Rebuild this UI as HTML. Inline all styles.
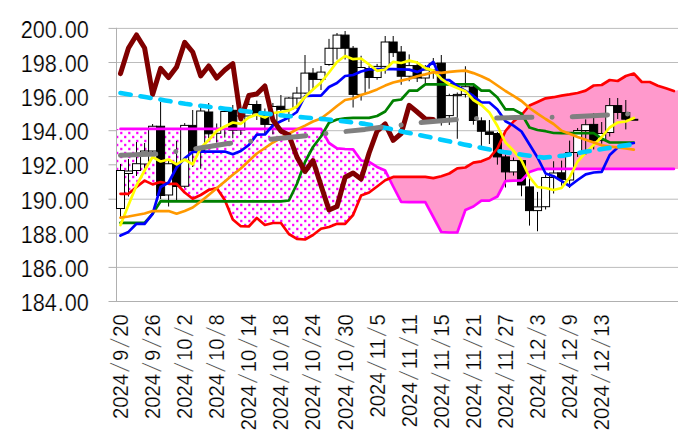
<!DOCTYPE html>
<html><head><meta charset="utf-8"><title>chart</title>
<style>html,body{margin:0;padding:0;background:#fff}svg{display:block}text{font-family:"Liberation Sans",sans-serif;fill:#000}</style></head><body>
<svg width="680" height="442" viewBox="0 0 680 442">
<defs><pattern id="dots" x="0" y="0" width="8" height="8" patternUnits="userSpaceOnUse"><rect width="8" height="8" fill="#fff"/><rect x="0.2" y="3.8" width="2.2" height="2.4" fill="#f0f"/><rect x="4.1" y="-0.2" width="2.2" height="2.4" fill="#f0f"/><rect x="4.1" y="7.8" width="2.2" height="2.4" fill="#f0f"/></pattern>
</defs>
<rect width="680" height="442" fill="#fff"/>
<line x1="116.5" y1="28.4" x2="678" y2="28.4" stroke="#bcbcbc" stroke-width="1"/>
<line x1="116.5" y1="62.5" x2="678" y2="62.5" stroke="#bcbcbc" stroke-width="1"/>
<line x1="116.5" y1="96.6" x2="678" y2="96.6" stroke="#bcbcbc" stroke-width="1"/>
<line x1="116.5" y1="130.7" x2="678" y2="130.7" stroke="#bcbcbc" stroke-width="1"/>
<line x1="116.5" y1="164.8" x2="678" y2="164.8" stroke="#bcbcbc" stroke-width="1"/>
<line x1="116.5" y1="199.2" x2="678" y2="199.2" stroke="#bcbcbc" stroke-width="1"/>
<line x1="116.5" y1="233.3" x2="678" y2="233.3" stroke="#bcbcbc" stroke-width="1"/>
<line x1="116.5" y1="267.4" x2="678" y2="267.4" stroke="#bcbcbc" stroke-width="1"/>
<polygon points="116.5,128.9 120.5,128.9 128.5,128.9 136.5,128.9 144.6,128.9 152.6,128.9 160.6,128.9 168.6,128.9 176.6,128.9 184.7,128.9 192.7,128.9 200.7,128.9 208.7,128.9 216.7,128.9 224.8,128.9 232.8,128.9 240.8,128.9 248.8,128.9 256.8,128.9 264.9,128.9 272.9,128.9 280.9,128.9 288.9,128.9 296.9,128.9 305.0,128.9 313.0,128.9 321.0,128.9 329.0,143.0 337.0,148.3 345.1,149.0 353.1,149.4 361.1,160.5 369.1,161.9 377.1,166.9 385.2,170.6 389.2,178.6 385.2,180.3 377.1,186.5 369.1,192.5 361.1,195.5 353.1,215.0 345.1,223.8 337.0,223.8 329.0,227.0 321.0,228.8 313.0,235.0 305.0,239.5 296.9,238.8 288.9,234.0 280.9,223.0 272.9,223.0 264.9,225.0 256.8,218.0 248.8,226.5 240.8,226.2 232.8,219.5 224.8,200.0 216.7,188.0 208.7,190.0 200.7,195.0 192.7,198.8 184.7,192.5 176.6,183.8 168.6,183.8 160.6,182.0 152.6,184.4 144.6,180.6 136.5,187.0 128.5,193.8 120.5,193.8 116.5,193.8" fill="url(#dots)"/>
<polygon points="389.2,178.6 393.2,176.9 401.2,176.9 409.2,176.9 417.2,176.9 425.3,176.9 433.3,178.1 441.3,176.2 449.3,173.5 457.3,168.3 465.4,167.5 473.4,162.7 481.4,161.3 489.4,158.0 497.4,148.5 505.5,131.0 513.5,121.5 521.5,115.0 529.5,105.5 537.5,101.9 545.6,98.3 553.6,97.2 561.6,95.6 569.6,94.4 577.6,93.0 585.7,90.6 593.7,85.5 601.7,85.0 609.7,80.0 617.7,81.0 625.8,76.0 633.8,73.5 641.8,82.0 649.8,82.0 657.8,85.7 665.9,88.3 673.9,91.0 678.0,90.2 678.0,168.9 673.9,168.9 665.9,168.9 657.8,168.9 649.8,168.9 641.8,168.9 633.8,168.9 625.8,168.9 617.7,168.9 609.7,168.9 601.7,168.9 593.7,168.9 585.7,168.9 577.6,168.9 569.6,168.9 561.6,168.9 553.6,168.9 545.6,168.9 537.5,169.2 529.5,172.0 521.5,180.4 513.5,180.6 505.5,181.0 497.4,196.5 489.4,200.6 481.4,200.6 473.4,206.5 465.4,210.0 457.3,232.5 449.3,232.5 441.3,232.0 433.3,217.0 425.3,202.2 417.2,202.2 409.2,202.2 401.2,201.8 393.2,186.5" fill="#ff99cc"/>
<line x1="116.5" y1="27.8" x2="116.5" y2="301.7" stroke="#b0b0b0" stroke-width="1"/>
<line x1="108.5" y1="301.5" x2="678" y2="301.5" stroke="#b0b0b0" stroke-width="1"/>
<line x1="108.5" y1="28.4" x2="116.5" y2="28.4" stroke="#b0b0b0" stroke-width="1"/>
<line x1="108.5" y1="62.5" x2="116.5" y2="62.5" stroke="#b0b0b0" stroke-width="1"/>
<line x1="108.5" y1="96.6" x2="116.5" y2="96.6" stroke="#b0b0b0" stroke-width="1"/>
<line x1="108.5" y1="130.7" x2="116.5" y2="130.7" stroke="#b0b0b0" stroke-width="1"/>
<line x1="108.5" y1="164.8" x2="116.5" y2="164.8" stroke="#b0b0b0" stroke-width="1"/>
<line x1="108.5" y1="199.2" x2="116.5" y2="199.2" stroke="#b0b0b0" stroke-width="1"/>
<line x1="108.5" y1="233.3" x2="116.5" y2="233.3" stroke="#b0b0b0" stroke-width="1"/>
<line x1="108.5" y1="267.4" x2="116.5" y2="267.4" stroke="#b0b0b0" stroke-width="1"/>
<g stroke="#000" stroke-width="1">
<line x1="120.5" y1="164" x2="120.5" y2="217"/>
<rect x="116.49" y="170.5" width="8.02" height="38.00" fill="#fff"/>
<line x1="128.5" y1="159" x2="128.5" y2="196.5"/>
<rect x="124.51" y="171" width="8.02" height="2.50" fill="#fff"/>
<line x1="136.5" y1="142" x2="136.5" y2="176"/>
<rect x="132.53" y="163.7" width="8.02" height="6.80" fill="#fff"/>
<line x1="144.6" y1="143" x2="144.6" y2="172"/>
<rect x="140.55" y="151" width="8.02" height="13.00" fill="#fff"/>
<line x1="152.6" y1="124" x2="152.6" y2="153"/>
<rect x="148.57" y="126.25" width="8.02" height="24.75" fill="#fff"/>
<line x1="160.6" y1="102" x2="160.6" y2="199"/>
<rect x="156.59" y="126.25" width="8.02" height="69.25" fill="#000"/>
<line x1="168.6" y1="160" x2="168.6" y2="206.5"/>
<rect x="164.61" y="163.75" width="8.02" height="31.25" fill="#fff"/>
<line x1="176.6" y1="141" x2="176.6" y2="200"/>
<rect x="172.63" y="163.75" width="8.02" height="22.75" fill="#000"/>
<line x1="184.7" y1="123.1" x2="184.7" y2="188"/>
<rect x="180.65" y="125.4" width="8.02" height="60.85" fill="#fff"/>
<line x1="192.7" y1="110" x2="192.7" y2="167"/>
<rect x="188.67" y="125.4" width="8.02" height="25.60" fill="#000"/>
<line x1="200.7" y1="104" x2="200.7" y2="168.75"/>
<rect x="196.69" y="111" width="8.02" height="39.60" fill="#fff"/>
<line x1="208.7" y1="103" x2="208.7" y2="138"/>
<rect x="204.71" y="112" width="8.02" height="21.80" fill="#000"/>
<line x1="216.7" y1="123.5" x2="216.7" y2="142.6"/>
<rect x="212.73" y="129" width="8.02" height="4.30" fill="#fff"/>
<line x1="224.8" y1="108" x2="224.8" y2="137.6"/>
<rect x="220.75" y="111.5" width="8.02" height="18.00" fill="#fff"/>
<line x1="232.8" y1="105" x2="232.8" y2="138.2"/>
<rect x="228.77" y="110.3" width="8.02" height="19.90" fill="#000"/>
<line x1="240.8" y1="112" x2="240.8" y2="135"/>
<rect x="236.79" y="116" width="8.02" height="14.00" fill="#fff"/>
<line x1="248.8" y1="101" x2="248.8" y2="118"/>
<rect x="244.81" y="104.5" width="8.02" height="11.50" fill="#fff"/>
<line x1="256.8" y1="100.6" x2="256.8" y2="120"/>
<rect x="252.83" y="104.5" width="8.02" height="8.50" fill="#000"/>
<line x1="264.9" y1="108.5" x2="264.9" y2="133.5"/>
<rect x="260.85" y="113" width="8.02" height="11.40" fill="#000"/>
<line x1="272.9" y1="103" x2="272.9" y2="134.4"/>
<rect x="268.87" y="106.5" width="8.02" height="17.90" fill="#fff"/>
<line x1="280.9" y1="95" x2="280.9" y2="113"/>
<rect x="276.89" y="106.25" width="8.02" height="3.15" fill="#000"/>
<line x1="288.9" y1="97" x2="288.9" y2="121.9"/>
<rect x="284.91" y="98.1" width="8.02" height="11.30" fill="#fff"/>
<line x1="296.9" y1="86.9" x2="296.9" y2="108.75"/>
<rect x="292.93" y="93.1" width="8.02" height="5.00" fill="#fff"/>
<line x1="305.0" y1="55" x2="305.0" y2="94"/>
<rect x="300.95" y="73.1" width="8.02" height="20.00" fill="#fff"/>
<line x1="313.0" y1="68.1" x2="313.0" y2="89.4"/>
<rect x="308.97" y="73.1" width="8.02" height="6.30" fill="#000"/>
<line x1="321.0" y1="66" x2="321.0" y2="90"/>
<rect x="316.99" y="72.1" width="8.02" height="7.30" fill="#fff"/>
<line x1="329.0" y1="38.9" x2="329.0" y2="65.75"/>
<rect x="325.01" y="48.25" width="8.02" height="16.25" fill="#fff"/>
<line x1="337.0" y1="33" x2="337.0" y2="59.5"/>
<rect x="333.03" y="35.1" width="8.02" height="13.15" fill="#fff"/>
<line x1="345.1" y1="31" x2="345.1" y2="59.5"/>
<rect x="341.05" y="35.1" width="8.02" height="13.15" fill="#000"/>
<line x1="353.1" y1="46" x2="353.1" y2="107.5"/>
<rect x="349.07" y="48.25" width="8.02" height="46.15" fill="#000"/>
<line x1="361.1" y1="55.75" x2="361.1" y2="100.6"/>
<rect x="357.09" y="67.5" width="8.02" height="26.90" fill="#fff"/>
<line x1="369.1" y1="66" x2="369.1" y2="88.75"/>
<rect x="365.11" y="68.5" width="8.02" height="9.00" fill="#000"/>
<line x1="377.1" y1="63.9" x2="377.1" y2="79.75"/>
<rect x="373.13" y="66.4" width="8.02" height="11.10" fill="#fff"/>
<line x1="385.2" y1="36" x2="385.2" y2="73.7"/>
<rect x="381.15" y="42" width="8.02" height="24.40" fill="#fff"/>
<line x1="393.2" y1="36" x2="393.2" y2="57"/>
<rect x="389.17" y="42" width="8.02" height="10.60" fill="#000"/>
<line x1="401.2" y1="46" x2="401.2" y2="84.75"/>
<rect x="397.19" y="52" width="8.02" height="24.25" fill="#000"/>
<line x1="409.2" y1="54.4" x2="409.2" y2="81.25"/>
<rect x="405.21" y="65.6" width="8.02" height="10.65" fill="#fff"/>
<line x1="417.2" y1="61" x2="417.2" y2="82"/>
<rect x="413.23" y="65.6" width="8.02" height="12.40" fill="#000"/>
<line x1="425.3" y1="65" x2="425.3" y2="83"/>
<rect x="421.25" y="70" width="8.02" height="8.00" fill="#fff"/>
<line x1="433.3" y1="58" x2="433.3" y2="78.75"/>
<rect x="429.27" y="63.4" width="8.02" height="6.60" fill="#fff"/>
<line x1="441.3" y1="55" x2="441.3" y2="125.6"/>
<rect x="437.29" y="63.1" width="8.02" height="55.65" fill="#000"/>
<line x1="449.3" y1="93.75" x2="449.3" y2="125"/>
<rect x="445.31" y="95.6" width="8.02" height="20.00" fill="#fff"/>
<line x1="457.3" y1="92.5" x2="457.3" y2="138.75"/>
<rect x="453.33" y="94.4" width="8.02" height="1.20" fill="#fff"/>
<line x1="465.4" y1="66.25" x2="465.4" y2="97.5"/>
<rect x="461.35" y="86.7" width="8.02" height="7.70" fill="#fff"/>
<line x1="473.4" y1="85" x2="473.4" y2="124.7"/>
<rect x="469.37" y="86.9" width="8.02" height="33.60" fill="#000"/>
<line x1="481.4" y1="117.3" x2="481.4" y2="148"/>
<rect x="477.39" y="120.8" width="8.02" height="10.45" fill="#000"/>
<line x1="489.4" y1="120" x2="489.4" y2="144"/>
<rect x="485.41" y="131.9" width="8.02" height="2.50" fill="#000"/>
<line x1="497.4" y1="132" x2="497.4" y2="164.7"/>
<rect x="493.43" y="133.5" width="8.02" height="23.40" fill="#000"/>
<line x1="505.5" y1="154.5" x2="505.5" y2="187.5"/>
<rect x="501.45" y="156.9" width="8.02" height="15.00" fill="#000"/>
<line x1="513.5" y1="157.5" x2="513.5" y2="175.6"/>
<rect x="509.47" y="160.6" width="8.02" height="11.30" fill="#fff"/>
<line x1="521.5" y1="159" x2="521.5" y2="196.25"/>
<rect x="517.49" y="160.6" width="8.02" height="24.40" fill="#000"/>
<line x1="529.5" y1="178" x2="529.5" y2="225.6"/>
<rect x="525.51" y="186.9" width="8.02" height="23.70" fill="#000"/>
<line x1="537.5" y1="191.9" x2="537.5" y2="231.25"/>
<rect x="533.53" y="206.9" width="8.02" height="3.70" fill="#fff"/>
<line x1="545.6" y1="175" x2="545.6" y2="209.5"/>
<rect x="541.55" y="177.5" width="8.02" height="29.20" fill="#fff"/>
<line x1="553.6" y1="161.25" x2="553.6" y2="193.5"/>
<rect x="549.57" y="173" width="8.02" height="4.50" fill="#fff"/>
<line x1="561.6" y1="160.6" x2="561.6" y2="185.6"/>
<rect x="557.59" y="172.8" width="8.02" height="6.60" fill="#000"/>
<line x1="569.6" y1="140.6" x2="569.6" y2="188"/>
<rect x="565.61" y="152.5" width="8.02" height="27.50" fill="#fff"/>
<line x1="577.6" y1="128" x2="577.6" y2="156.9"/>
<rect x="573.63" y="130.5" width="8.02" height="22.00" fill="#fff"/>
<line x1="585.7" y1="119.4" x2="585.7" y2="155"/>
<rect x="581.65" y="124.7" width="8.02" height="5.80" fill="#fff"/>
<line x1="593.7" y1="113" x2="593.7" y2="149.4"/>
<rect x="589.67" y="124.4" width="8.02" height="16.20" fill="#000"/>
<line x1="601.7" y1="122" x2="601.7" y2="143.75"/>
<rect x="597.69" y="133.5" width="8.02" height="7.10" fill="#fff"/>
<line x1="609.7" y1="98" x2="609.7" y2="136.5"/>
<rect x="605.71" y="105.6" width="8.02" height="26.90" fill="#fff"/>
<line x1="617.7" y1="98" x2="617.7" y2="119"/>
<rect x="613.73" y="105.6" width="8.02" height="6.90" fill="#000"/>
<line x1="625.8" y1="100" x2="625.8" y2="129.4"/>
<rect x="621.75" y="112.5" width="8.02" height="6.70" fill="#000"/>
<line x1="633.8" y1="119.5" x2="633.8" y2="120"/>
<rect x="629.77" y="119.3" width="8.02" height="0.90" fill="#000"/>
</g>
<polyline points="120.5,128.9 128.5,128.9 136.5,128.9 144.6,128.9 152.6,128.9 160.6,128.9 168.6,128.9 176.6,128.9 184.7,128.9 192.7,128.9 200.7,128.9 208.7,128.9 216.7,128.9 224.8,128.9 232.8,128.9 240.8,128.9 248.8,128.9 256.8,128.9 264.9,128.9 272.9,128.9 280.9,128.9 288.9,128.9 296.9,128.9 305.0,128.9 313.0,128.9 321.0,128.9 329.0,143.0 337.0,148.3 345.1,149.0 353.1,149.4 361.1,160.5 369.1,161.9 377.1,166.9 385.2,170.6 393.2,186.5 401.2,201.8 409.2,202.2 417.2,202.2 425.3,202.2 433.3,217.0 441.3,232.0 449.3,232.5 457.3,232.5 465.4,210.0 473.4,206.5 481.4,200.6 489.4,200.6 497.4,196.5 505.5,181.0 513.5,180.6 521.5,180.4 529.5,172.0 537.5,169.2 545.6,168.9 553.6,168.9 561.6,168.9 569.6,168.9 577.6,168.9 585.7,168.9 593.7,168.9 601.7,168.9 609.7,168.9 617.7,168.9 625.8,168.9 633.8,168.9 641.8,168.9 649.8,168.9 657.8,168.9 665.9,168.9 673.9,168.9" fill="none" stroke="#ff00ff" stroke-width="2.7" stroke-linejoin="round" stroke-linecap="round" />
<polyline points="120.5,193.8 128.5,193.8 136.5,187.0 144.6,180.6 152.6,184.4 160.6,182.0 168.6,183.8 176.6,183.8 184.7,192.5 192.7,198.8 200.7,195.0 208.7,190.0 216.7,188.0 224.8,200.0 232.8,219.5 240.8,226.2 248.8,226.5 256.8,218.0 264.9,225.0 272.9,223.0 280.9,223.0 288.9,234.0 296.9,238.8 305.0,239.5 313.0,235.0 321.0,228.8 329.0,227.0 337.0,223.8 345.1,223.8 353.1,215.0 361.1,195.5 369.1,192.5 377.1,186.5 385.2,180.3 393.2,176.9 401.2,176.9 409.2,176.9 417.2,176.9 425.3,176.9 433.3,178.1 441.3,176.2 449.3,173.5 457.3,168.3 465.4,167.5 473.4,162.7 481.4,161.3 489.4,158.0 497.4,148.5 505.5,131.0 513.5,121.5 521.5,115.0 529.5,105.5 537.5,101.9 545.6,98.3 553.6,97.2 561.6,95.6 569.6,94.4 577.6,93.0 585.7,90.6 593.7,85.5 601.7,85.0 609.7,80.0 617.7,81.0 625.8,76.0 633.8,73.5 641.8,82.0 649.8,82.0 657.8,85.7 665.9,88.3 673.9,91.0" fill="none" stroke="#ff0000" stroke-width="2.7" stroke-linejoin="round" stroke-linecap="round" />
<polyline points="120.5,222.8 128.5,222.8 136.5,222.8 144.6,222.8 152.6,213.8 160.6,201.2 168.6,201.4 176.6,201.4 184.7,201.4 192.7,201.4 200.7,201.4 208.7,201.4 216.7,201.4 224.8,201.4 232.8,201.4 240.8,201.4 248.8,201.4 256.8,201.4 264.9,201.4 272.9,201.4 280.9,201.4 288.9,200.5 296.9,184.0 305.0,162.0 313.0,147.0 321.0,136.5 329.0,122.8 337.0,119.5 345.1,118.4 353.1,117.9 361.1,117.9 369.1,117.9 377.1,116.0 385.2,111.5 393.2,100.6 401.2,99.5 409.2,90.6 417.2,90.6 425.3,84.4 433.3,84.4 441.3,84.4 449.3,84.4 457.3,84.4 465.4,84.4 473.4,84.4 481.4,90.6 489.4,90.6 497.4,97.5 505.5,109.4 513.5,109.4 521.5,113.8 529.5,127.5 537.5,130.0 545.6,131.2 553.6,133.0 561.6,133.1 569.6,133.1 577.6,133.1 585.7,133.1 593.7,133.1 601.7,138.5 609.7,142.5 617.7,142.5 625.8,142.5 633.8,142.5" fill="none" stroke="#008000" stroke-width="2.7" stroke-linejoin="round" stroke-linecap="round" />
<polyline points="120.5,235.6 128.5,231.9 136.5,223.8 144.6,223.8 152.6,213.8 160.6,187.0 168.6,182.5 176.6,167.5 184.7,158.3 192.7,152.0 200.7,151.7 208.7,151.7 216.7,151.7 224.8,151.5 232.8,154.3 240.8,151.0 248.8,145.0 256.8,134.7 264.9,134.5 272.9,125.3 280.9,121.2 288.9,117.5 296.9,112.0 305.0,96.0 313.0,95.6 321.0,95.6 329.0,87.0 337.0,83.0 345.1,76.0 353.1,75.0 361.1,71.5 369.1,69.4 377.1,69.2 385.2,69.2 393.2,69.2 401.2,69.4 409.2,69.6 417.2,71.9 425.3,68.5 433.3,61.9 441.3,80.0 449.3,80.2 457.3,86.2 465.4,91.0 473.4,96.0 481.4,102.5 489.4,102.5 497.4,109.4 505.5,121.2 513.5,125.6 521.5,131.5 529.5,144.5 537.5,157.5 545.6,173.5 553.6,176.2 561.6,181.2 569.6,186.0 577.6,180.0 585.7,174.4 593.7,172.5 601.7,171.9 609.7,155.0 617.7,147.5 625.8,144.5 633.8,143.0" fill="none" stroke="#0000ff" stroke-width="2.7" stroke-linejoin="round" stroke-linecap="round" />
<polyline points="120.5,225.0 128.5,205.0 136.5,185.5 144.6,170.5 152.6,157.0 160.6,161.5 168.6,159.5 176.6,164.4 184.7,159.5 192.7,164.4 200.7,148.0 208.7,140.0 216.7,131.0 224.8,126.5 232.8,122.5 240.8,123.8 248.8,117.5 256.8,114.4 264.9,117.5 272.9,113.0 280.9,112.0 288.9,110.6 296.9,106.5 305.0,97.0 313.0,89.6 321.0,82.5 329.0,72.5 337.0,62.0 345.1,56.0 353.1,59.2 361.1,58.5 369.1,64.5 377.1,70.8 385.2,69.5 393.2,61.8 401.2,63.0 409.2,60.6 417.2,62.5 425.3,68.1 433.3,70.6 441.3,78.8 449.3,84.4 457.3,88.1 465.4,91.2 473.4,100.0 481.4,105.0 489.4,112.5 497.4,126.0 505.5,142.5 513.5,150.6 521.5,160.5 529.5,177.0 537.5,187.0 545.6,188.0 553.6,190.0 561.6,188.0 569.6,177.5 577.6,161.5 585.7,152.5 593.7,145.0 601.7,137.0 609.7,127.5 617.7,122.5 625.8,121.5 633.8,118.0" fill="none" stroke="#ffff00" stroke-width="2.7" stroke-linejoin="round" stroke-linecap="round" />
<polyline points="120.5,217.7 128.5,216.5 136.5,215.0 144.6,213.5 152.6,211.0 160.6,211.2 168.6,211.0 176.6,213.7 184.7,211.0 192.7,207.5 200.7,201.5 208.7,195.0 216.7,188.3 224.8,181.5 232.8,174.8 240.8,168.5 248.8,161.0 256.8,153.5 264.9,148.0 272.9,142.5 280.9,138.0 288.9,133.8 296.9,129.4 305.0,125.6 313.0,121.5 321.0,118.5 329.0,112.5 337.0,106.0 345.1,100.0 353.1,98.5 361.1,95.0 369.1,92.5 377.1,89.4 385.2,85.6 393.2,82.5 401.2,80.6 409.2,78.8 417.2,76.2 425.3,74.4 433.3,72.2 441.3,72.8 449.3,71.9 457.3,71.2 465.4,70.6 473.4,73.1 481.4,76.2 489.4,80.0 497.4,85.5 505.5,91.0 513.5,95.9 521.5,101.0 529.5,108.0 537.5,113.6 545.6,119.0 553.6,124.0 561.6,130.7 569.6,133.8 577.6,137.0 585.7,139.8 593.7,142.5 601.7,145.3 609.7,146.5 617.7,147.3 625.8,148.5 633.8,149.7" fill="none" stroke="#ff9900" stroke-width="2.7" stroke-linejoin="round" stroke-linecap="round" />
<polyline points="120.5,73.6 128.5,48.0 136.5,35.0 144.6,48.0 152.6,94.4 160.6,68.4 168.6,77.6 176.6,67.0 184.7,42.4 192.7,52.0 200.7,76.0 208.7,66.0 216.7,78.0 224.8,70.0 232.8,63.6 240.8,119.0 248.8,95.5 256.8,94.0 264.9,86.0 272.9,120.0 280.9,131.0 288.9,135.0 296.9,157.0 305.0,171.5 313.0,160.6 321.0,185.5 329.0,210.0 337.0,206.5 345.1,177.3 353.1,173.0 361.1,179.0 369.1,153.0 377.1,131.0 385.2,124.0 393.2,140.3 401.2,133.5 409.2,105.3 417.2,112.0 425.3,119.0 433.3,119.5" fill="none" stroke="#800000" stroke-width="5" stroke-linejoin="round" stroke-linecap="round" />
<polyline points="120.5,93.0 145.2,97.1 165.2,100.4 185.2,103.8 205.0,106.3 225.0,108.7 245.0,111.2 265.0,113.5 285.0,115.8 305.0,117.5 325.6,119.3 345.0,121.4 365.0,123.9 388.8,128.6 406.2,132.4 425.0,136.2 445.0,140.5 463.8,144.4 484.4,148.5 503.8,152.0 523.8,155.0 543.8,157.6 563.8,155.6 583.8,151.9 603.8,148.8 623.8,145.6 633.8,144.3" fill="none" stroke="#00ccff" stroke-width="4.6" stroke-linejoin="round" stroke-linecap="round" stroke-dasharray="10.3 9.9"/>
<polyline points="120.5,155.3 158.0,154.0 175.5,151.5 194.0,149.0 228.0,143.5 250.6,141.2 268.0,139.4 308.0,135.6 325.6,133.5 365.0,129.4 382.5,126.9 401.0,125.1 420.6,122.5 457.5,119.4 476.0,118.5 515.0,117.5 552.0,117.2 570.6,116.9 610.0,114.8 628.0,114.0 633.8,113.8" fill="none" stroke="#808080" stroke-width="5" stroke-linejoin="round" stroke-linecap="round" stroke-dasharray="35.3 20.17 0.01 20.17"/>
<text transform="translate(88.9,37.7) scale(0.913,1)" font-size="23.8" text-anchor="end" dx="0 0 0 0.96 0.96 0" stroke="#fff" stroke-width="0.25">200.00</text>
<text transform="translate(88.9,71.8) scale(0.913,1)" font-size="23.8" text-anchor="end" dx="0 0 0 0.96 0.96 0" stroke="#fff" stroke-width="0.25">198.00</text>
<text transform="translate(88.9,105.9) scale(0.913,1)" font-size="23.8" text-anchor="end" dx="0 0 0 0.96 0.96 0" stroke="#fff" stroke-width="0.25">196.00</text>
<text transform="translate(88.9,140.0) scale(0.913,1)" font-size="23.8" text-anchor="end" dx="0 0 0 0.96 0.96 0" stroke="#fff" stroke-width="0.25">194.00</text>
<text transform="translate(88.9,174.1) scale(0.913,1)" font-size="23.8" text-anchor="end" dx="0 0 0 0.96 0.96 0" stroke="#fff" stroke-width="0.25">192.00</text>
<text transform="translate(88.9,208.5) scale(0.913,1)" font-size="23.8" text-anchor="end" dx="0 0 0 0.96 0.96 0" stroke="#fff" stroke-width="0.25">190.00</text>
<text transform="translate(88.9,242.6) scale(0.913,1)" font-size="23.8" text-anchor="end" dx="0 0 0 0.96 0.96 0" stroke="#fff" stroke-width="0.25">188.00</text>
<text transform="translate(88.9,276.7) scale(0.913,1)" font-size="23.8" text-anchor="end" dx="0 0 0 0.96 0.96 0" stroke="#fff" stroke-width="0.25">186.00</text>
<text transform="translate(88.9,310.8) scale(0.913,1)" font-size="23.8" text-anchor="end" dx="0 0 0 0.96 0.96 0" stroke="#fff" stroke-width="0.25">184.00</text>
<text transform="translate(127.9,314.3) rotate(-90) scale(0.927,1)" font-size="21.8" text-anchor="end" dx="0 0 0 0 2 1.2 2 1.2 0" stroke="#fff" stroke-width="0.25">2024<tspan font-family="IPAGothic, sans-serif">/</tspan>9<tspan font-family="IPAGothic, sans-serif">/</tspan>20</text>
<text transform="translate(160.0,314.3) rotate(-90) scale(0.927,1)" font-size="21.8" text-anchor="end" dx="0 0 0 0 2 1.2 2 1.2 0" stroke="#fff" stroke-width="0.25">2024<tspan font-family="IPAGothic, sans-serif">/</tspan>9<tspan font-family="IPAGothic, sans-serif">/</tspan>26</text>
<text transform="translate(192.1,314.3) rotate(-90) scale(0.927,1)" font-size="21.8" text-anchor="end" dx="0 0 0 0 2 1.2 0 2 1.2" stroke="#fff" stroke-width="0.25">2024<tspan font-family="IPAGothic, sans-serif">/</tspan>10<tspan font-family="IPAGothic, sans-serif">/</tspan>2</text>
<text transform="translate(224.1,314.3) rotate(-90) scale(0.927,1)" font-size="21.8" text-anchor="end" dx="0 0 0 0 2 1.2 0 2 1.2" stroke="#fff" stroke-width="0.25">2024<tspan font-family="IPAGothic, sans-serif">/</tspan>10<tspan font-family="IPAGothic, sans-serif">/</tspan>8</text>
<text transform="translate(256.2,314.3) rotate(-90) scale(0.927,1)" font-size="21.8" text-anchor="end" dx="0 0 0 0 2 1.2 0 2 1.2 0" stroke="#fff" stroke-width="0.25">2024<tspan font-family="IPAGothic, sans-serif">/</tspan>10<tspan font-family="IPAGothic, sans-serif">/</tspan>14</text>
<text transform="translate(288.3,314.3) rotate(-90) scale(0.927,1)" font-size="21.8" text-anchor="end" dx="0 0 0 0 2 1.2 0 2 1.2 0" stroke="#fff" stroke-width="0.25">2024<tspan font-family="IPAGothic, sans-serif">/</tspan>10<tspan font-family="IPAGothic, sans-serif">/</tspan>18</text>
<text transform="translate(320.4,314.3) rotate(-90) scale(0.927,1)" font-size="21.8" text-anchor="end" dx="0 0 0 0 2 1.2 0 2 1.2 0" stroke="#fff" stroke-width="0.25">2024<tspan font-family="IPAGothic, sans-serif">/</tspan>10<tspan font-family="IPAGothic, sans-serif">/</tspan>24</text>
<text transform="translate(352.5,314.3) rotate(-90) scale(0.927,1)" font-size="21.8" text-anchor="end" dx="0 0 0 0 2 1.2 0 2 1.2 0" stroke="#fff" stroke-width="0.25">2024<tspan font-family="IPAGothic, sans-serif">/</tspan>10<tspan font-family="IPAGothic, sans-serif">/</tspan>30</text>
<text transform="translate(384.5,314.3) rotate(-90) scale(0.927,1)" font-size="21.8" text-anchor="end" dx="0 0 0 0 2 1.2 0 2 1.2" stroke="#fff" stroke-width="0.25">2024<tspan font-family="IPAGothic, sans-serif">/</tspan>11<tspan font-family="IPAGothic, sans-serif">/</tspan>5</text>
<text transform="translate(416.6,314.3) rotate(-90) scale(0.927,1)" font-size="21.8" text-anchor="end" dx="0 0 0 0 2 1.2 0 2 1.2 0" stroke="#fff" stroke-width="0.25">2024<tspan font-family="IPAGothic, sans-serif">/</tspan>11<tspan font-family="IPAGothic, sans-serif">/</tspan>11</text>
<text transform="translate(448.7,314.3) rotate(-90) scale(0.927,1)" font-size="21.8" text-anchor="end" dx="0 0 0 0 2 1.2 0 2 1.2 0" stroke="#fff" stroke-width="0.25">2024<tspan font-family="IPAGothic, sans-serif">/</tspan>11<tspan font-family="IPAGothic, sans-serif">/</tspan>15</text>
<text transform="translate(480.8,314.3) rotate(-90) scale(0.927,1)" font-size="21.8" text-anchor="end" dx="0 0 0 0 2 1.2 0 2 1.2 0" stroke="#fff" stroke-width="0.25">2024<tspan font-family="IPAGothic, sans-serif">/</tspan>11<tspan font-family="IPAGothic, sans-serif">/</tspan>21</text>
<text transform="translate(512.9,314.3) rotate(-90) scale(0.927,1)" font-size="21.8" text-anchor="end" dx="0 0 0 0 2 1.2 0 2 1.2 0" stroke="#fff" stroke-width="0.25">2024<tspan font-family="IPAGothic, sans-serif">/</tspan>11<tspan font-family="IPAGothic, sans-serif">/</tspan>27</text>
<text transform="translate(544.9,314.3) rotate(-90) scale(0.927,1)" font-size="21.8" text-anchor="end" dx="0 0 0 0 2 1.2 0 2 1.2" stroke="#fff" stroke-width="0.25">2024<tspan font-family="IPAGothic, sans-serif">/</tspan>12<tspan font-family="IPAGothic, sans-serif">/</tspan>3</text>
<text transform="translate(577.0,314.3) rotate(-90) scale(0.927,1)" font-size="21.8" text-anchor="end" dx="0 0 0 0 2 1.2 0 2 1.2" stroke="#fff" stroke-width="0.25">2024<tspan font-family="IPAGothic, sans-serif">/</tspan>12<tspan font-family="IPAGothic, sans-serif">/</tspan>9</text>
<text transform="translate(609.1,314.3) rotate(-90) scale(0.927,1)" font-size="21.8" text-anchor="end" dx="0 0 0 0 2 1.2 0 2 1.2 0" stroke="#fff" stroke-width="0.25">2024<tspan font-family="IPAGothic, sans-serif">/</tspan>12<tspan font-family="IPAGothic, sans-serif">/</tspan>13</text>
</svg></body></html>
